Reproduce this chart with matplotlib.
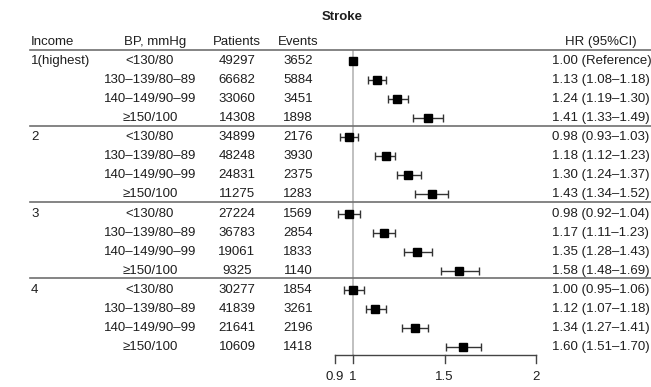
import matplotlib
matplotlib.use("Agg")
import matplotlib.pyplot as plt
from matplotlib.transforms import blended_transform_factory

plt.rcParams['font.family'] = ['Liberation Sans', 'DejaVu Sans']
plt.rcParams['font.size'] = 9.5

# data
income_groups = ['1(highest)', '2', '3', '4']
bp_levels = ['<130/80', '130–139/80–89', '140–149/90–99', '≥150/100']
patients = [49297, 66682, 33060, 14308,
            34899, 48248, 24831, 11275,
            27224, 36783, 19061, 9325,
            30277, 41839, 21641, 10609]
events = [3652, 5884, 3451, 1898,
          2176, 3930, 2375, 1283,
          1569, 2854, 1833, 1140,
          1854, 3261, 2196, 1418]
hr = [1.00, 1.13, 1.24, 1.41,
      0.98, 1.18, 1.30, 1.43,
      0.98, 1.17, 1.35, 1.58,
      1.00, 1.12, 1.34, 1.60]
ci_low = [None, 1.08, 1.19, 1.33,
          0.93, 1.12, 1.24, 1.34,
          0.92, 1.11, 1.28, 1.48,
          0.95, 1.07, 1.27, 1.51]
ci_high = [None, 1.18, 1.30, 1.49,
           1.03, 1.23, 1.37, 1.52,
           1.04, 1.23, 1.43, 1.69,
           1.06, 1.18, 1.41, 1.70]
x_ticks = [0.9, 1, 1.5, 2]
x_tick_labels = ['0.9', '1', '1.5', '2']

W, H = 651, 387
fig = plt.figure(figsize=(W / 100, H / 100), dpi=100)
ax = fig.add_axes([0, 0, 1, 1])
ax.axis('off')

# HR scale: 1 -> px 353, 2 -> px 536
px_per_unit = 183.0
ax.set_xlim(1 - 353 / px_per_unit, 1 + (W - 353) / px_per_unit)
# rows: row 0 at px 61, step 19.07
row_h = 19.07
ax.set_ylim((H - 61) / row_h, -61 / row_h)

trans = blended_transform_factory(ax.transAxes, ax.transData)
txt_col = '#1e1e1e'
line_col = '#707070'

def fx(px):
    return px / W

# header
ax.text(fx(342), -2.3, 'Stroke', transform=trans, fontweight='bold',
        ha='center', va='center', color=txt_col)
hdr_y = -1
ax.text(fx(31), hdr_y, 'Income', transform=trans, ha='left', va='center', color=txt_col)
ax.text(fx(155), hdr_y, 'BP, mmHg', transform=trans, ha='center', va='center', color=txt_col)
ax.text(fx(237), hdr_y, 'Patients', transform=trans, ha='center', va='center', color=txt_col)
ax.text(fx(298), hdr_y, 'Events', transform=trans, ha='center', va='center', color=txt_col)
ax.text(fx(601), hdr_y, 'HR (95%CI)', transform=trans, ha='center', va='center', color=txt_col)

ax.plot([fx(30), 1], [-0.6, -0.6], transform=trans, color=line_col, lw=1.2)

n_bp = len(bp_levels)
for i in range(len(hr)):
    g = i // n_bp
    b = i % n_bp
    if b == 0:
        ax.text(fx(31), i, income_groups[g], transform=trans, ha='left', va='center', color=txt_col)
        if g > 0:
            ax.plot([fx(30), 1], [i - 0.6, i - 0.6], transform=trans, color=line_col, lw=1.2)
    ax.text(fx(150), i, bp_levels[b], transform=trans, ha='center', va='center', color=txt_col)
    ax.text(fx(237), i, str(patients[i]), transform=trans, ha='center', va='center', color=txt_col)
    ax.text(fx(298), i, str(events[i]), transform=trans, ha='center', va='center', color=txt_col)
    if ci_low[i] is None:
        label = '{:.2f} (Reference)'.format(hr[i])
    else:
        label = '{:.2f} ({:.2f}–{:.2f})'.format(hr[i], ci_low[i], ci_high[i])
    ax.text(fx(552), i, label, transform=trans, ha='left', va='center', color=txt_col)

# reference line at HR = 1
n_rows = len(hr)
axis_y = n_rows - 0.58
ax.plot([1, 1], [-0.55, axis_y], color='#b5b5b5', lw=1.2, zorder=1)

# forest marks
rows = list(range(n_rows))
for i in rows:
    if ci_low[i] is not None:
        ax.errorbar(hr[i], i, xerr=[[hr[i] - ci_low[i]], [ci_high[i] - hr[i]]],
                    fmt='none', ecolor='#333333', elinewidth=1.0, capsize=3, capthick=1.0, zorder=2)
ax.plot(hr, rows, 's', color='black', markersize=5.5, zorder=3)

# x axis
ax.plot([x_ticks[0], x_ticks[-1]], [axis_y, axis_y], color='#444444', lw=1.0)
for t, lab in zip(x_ticks, x_tick_labels):
    ax.plot([t, t], [axis_y, axis_y + 0.42], color='#444444', lw=1.0)
    ax.text(t, axis_y + 1.15, lab, ha='center', va='center', color=txt_col)

fig.savefig('out.png', dpi=100)
